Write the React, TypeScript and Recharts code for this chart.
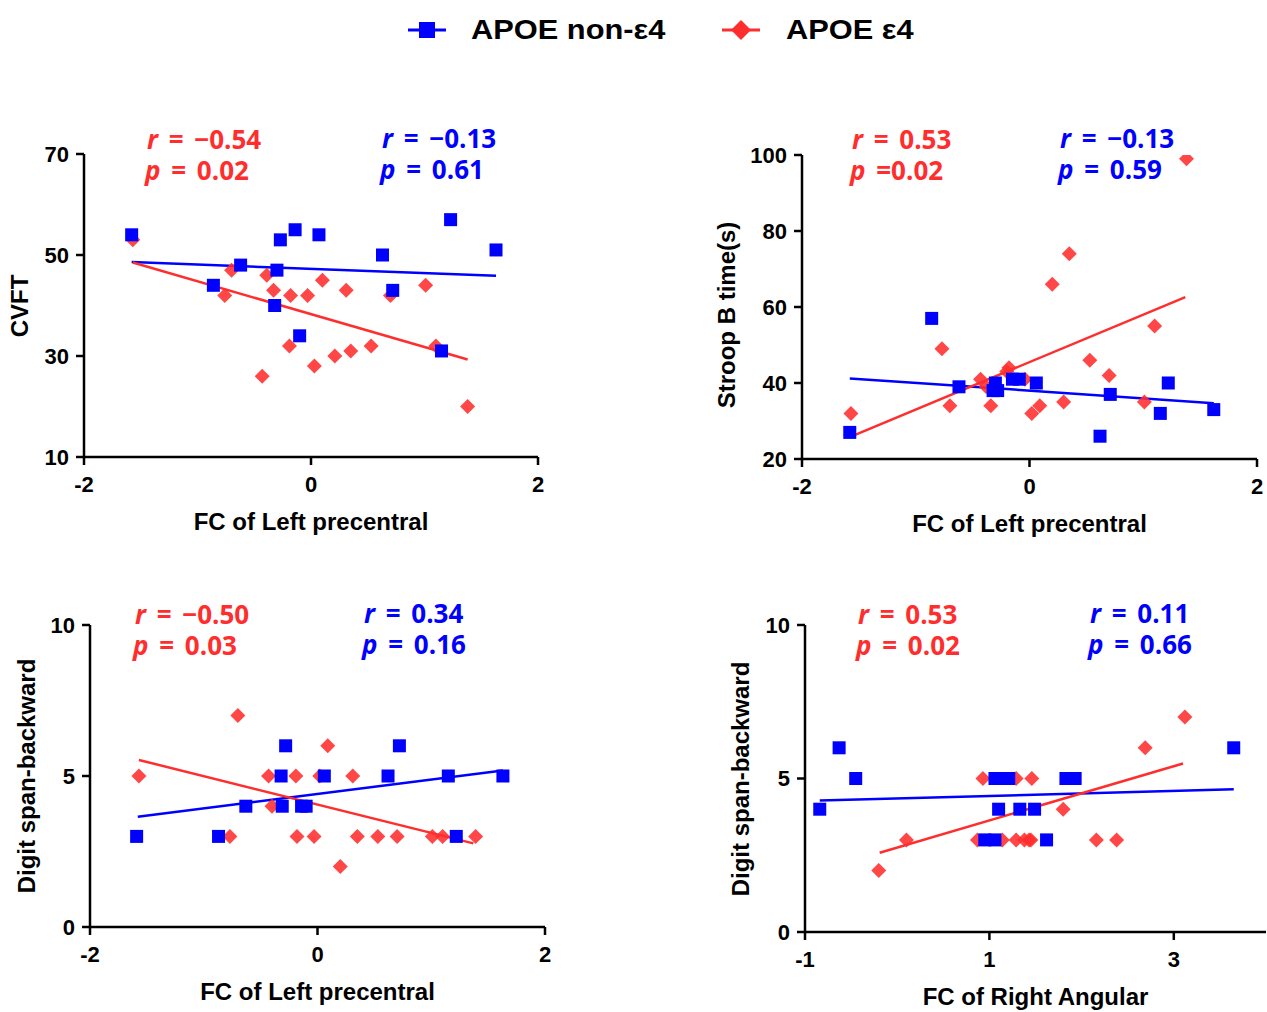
import React from "react";
import {
  ScatterChart,
  Scatter,
  XAxis,
  YAxis,
  ReferenceLine,
} from "recharts";

const BLUE = "#0000ff";
const RED = "#ff2e2e";
const SANS = "'Liberation Sans', Arial, sans-serif";
const STAT_FONT = "'Open Sans', 'Noto Sans', sans-serif";

// ---- panel 1: CVFT vs FC of Left precentral
const p1NonE4X = [-1.58, -0.86, -0.62, -0.27, -0.14, -0.3, -0.32, -0.1, 0.07, 0.63, 0.72, 1.23, 1.15, 1.63];
const p1NonE4Y = [54, 44, 48, 53, 55, 47, 40, 34, 54, 50, 43, 57, 31, 51];
const p1E4X = [-1.57, -0.76, -0.7, -0.39, -0.33, -0.18, -0.03, 0.1, 0.31, 0.7, 1.01, -0.19, -0.43, 0.03, 0.21, 0.35, 0.53, 1.1, 1.38];
const p1E4Y = [53, 42, 47, 46, 43, 42, 42, 45, 43, 42, 44, 32, 26, 28, 30, 31, 32, 32, 20];
const p1NonE4Fit = [[-1.58, 48.6], [1.63, 45.9]];
const p1E4Fit = [[-1.57, 48.5], [1.38, 29.3]];

// ---- panel 2: Stroop B time vs FC of Left precentral
const p2NonE4X = [-1.58, -0.86, -0.62, -0.3, -0.32, -0.28, -0.15, -0.09, 0.06, 0.62, 0.71, 1.15, 1.22, 1.62];
const p2NonE4Y = [27, 57, 39, 40, 38, 38, 41, 41, 40, 26, 37, 32, 40, 33];
const p2E4X = [-1.57, -0.77, -0.7, -0.43, -0.38, -0.34, -0.18, -0.2, -0.04, 0.02, 0.09, 0.2, 0.35, 0.3, 0.53, 0.7, 1.01, 1.1, 1.38];
const p2E4Y = [32, 49, 34, 41, 39, 34, 44, 43, 41, 32, 34, 66, 74, 35, 46, 42, 35, 55, 99];
const p2NonE4Fit = [[-1.58, 41.2], [1.62, 34.7]];
const p2E4Fit = [[-1.57, 25.9], [1.37, 62.6]];

// ---- panel 3: Digit span-backward vs FC of Left precentral
const p3NonE4X = [-1.59, -0.87, -0.63, -0.32, -0.28, -0.31, -0.14, -0.1, 0.06, 0.62, 0.72, 1.15, 1.22, 1.63];
const p3NonE4Y = [3, 3, 4, 5, 6, 4, 4, 4, 5, 5, 6, 5, 3, 5];
const p3E4X = [-1.57, -0.77, -0.7, -0.43, -0.4, -0.19, -0.18, -0.03, 0.02, 0.09, 0.2, 0.31, 0.35, 0.53, 0.7, 1.01, 1.1, 1.39];
const p3E4Y = [5, 3, 7, 5, 4, 5, 3, 3, 5, 6, 2, 5, 3, 3, 3, 3, 3, 3];
const p3NonE4Fit = [[-1.58, 3.65], [1.63, 5.18]];
const p3E4Fit = [[-1.57, 5.53], [1.37, 2.77]];

// ---- panel 4: Digit span-backward vs FC of Right Angular
const p4NonE4X = [-0.84, -0.63, -0.45, 0.95, 1.06, 1.06, 1.13, 1.21, 1.1, 1.33, 1.49, 1.62, 1.83, 1.93, 3.65];
const p4NonE4Y = [4, 6, 5, 3, 3, 5, 5, 5, 4, 4, 4, 3, 5, 5, 6];
const p4E4X = [-0.2, 0.1, 0.87, 0.93, 1.14, 1.29, 1.29, 1.38, 1.43, 1.46, 1.45, 1.8, 2.16, 2.38, 2.69, 3.12];
const p4E4Y = [2, 3, 3, 5, 3, 5, 3, 3, 3, 5, 3, 4, 3, 3, 6, 7];
const p4NonE4Fit = [[-0.84, 4.28], [3.65, 4.65]];
const p4E4Fit = [[-0.19, 2.58], [3.1, 5.49]];

// stats text after the italic letter: [r part, p part]
const p1Stats = { e4: [" = −0.54", " = 0.02"], nonE4: [" = −0.13", " = 0.61"] };
const p2Stats = { e4: [" = 0.53", " =0.02"], nonE4: [" = −0.13", " = 0.59"] };
const p3Stats = { e4: [" = −0.50", " = 0.03"], nonE4: [" = 0.34", " = 0.16"] };
const p4Stats = { e4: [" = 0.53", " = 0.02"], nonE4: [" = 0.11", " = 0.66"] };

const toPts = (xs: number[], ys: number[]) => xs.map((x, i) => ({ x, y: ys[i] }));

const SquareDot = (props: any) => {
  const { cx, cy } = props;
  if (cx == null || cy == null) return null;
  return <rect x={cx - 6.5} y={cy - 6.5} width={13} height={13} fill={BLUE} />;
};

const DiamondDot = (props: any) => {
  const { cx, cy } = props;
  if (cx == null || cy == null) return null;
  const r = 7.5;
  return (
    <polygon
      points={`${cx},${cy - r} ${cx + r},${cy} ${cx},${cy + r} ${cx - r},${cy}`}
      fill={RED}
      fillOpacity={0.88}
    />
  );
};

interface PanelProps {
  left: number;
  top: number;
  plotW: number;
  plotH: number;
  xDomain: [number, number];
  xTicks: number[];
  yDomain: [number, number];
  yTicks: number[];
  xLabel: string;
  yLabel: string;
  yTitleOffset: number;
  yTitleDy?: number;
  nonE4: { x: number; y: number }[];
  e4: { x: number; y: number }[];
  nonE4Fit: number[][];
  e4Fit: number[][];
  stats: { e4: string[]; nonE4: string[] };
  redX: number;
  blueX: number;
  statY: number;
}

function StatBlock({ x, y, color, r, p }: { x: number; y: number; color: string; r: string; p: string }) {
  const base: React.CSSProperties = {
    position: "absolute",
    left: x,
    color,
    fontFamily: STAT_FONT,
    fontWeight: 700,
    fontSize: 26,
    lineHeight: "26px",
    wordSpacing: 4,
    whiteSpace: "pre",
    transform: "translateY(-50%)",
  };
  return (
    <>
      <div style={{ ...base, top: y }}>
        <i>r</i>{r}
      </div>
      <div style={{ ...base, top: y + 31, left: x - 2 }}>
        <i>p</i>{p}
      </div>
    </>
  );
}

function Panel(props: PanelProps) {
  const { left, top, plotW, plotH } = props;
  const ML = 80;
  const MT = 20;
  const axisStyle = { stroke: "#000", strokeWidth: 2.5 };
  const tickStyle = { fill: "#000", fontSize: 22, fontWeight: 700, fontFamily: SANS };
  return (
    <>
      <div style={{ position: "absolute", left: left - ML, top: top - MT }}>
        <ScatterChart
          width={plotW + ML + 20}
          height={plotH + MT + 80}
          margin={{ top: MT, right: 20, bottom: 0, left: 0 }}
        >
          <XAxis
            type="number"
            dataKey="x"
            domain={props.xDomain}
            ticks={props.xTicks}
            allowDataOverflow
            height={80}
            axisLine={axisStyle}
            tickLine={axisStyle}
            tickSize={8}
            tickMargin={11}
            tick={tickStyle}
          />
          <YAxis
            type="number"
            dataKey="y"
            domain={props.yDomain}
            ticks={props.yTicks}
            allowDataOverflow
            width={ML}
            axisLine={axisStyle}
            tickLine={axisStyle}
            tickSize={8}
            tickMargin={7}
            tick={tickStyle}
          />
          <Scatter data={props.e4} shape={DiamondDot} isAnimationActive={false} />
          <Scatter data={props.nonE4} shape={SquareDot} isAnimationActive={false} />
          <ReferenceLine
            segment={props.nonE4Fit.map(([x, y]) => ({ x, y }))}
            stroke={BLUE}
            strokeWidth={2.5}
          />
          <ReferenceLine
            segment={props.e4Fit.map(([x, y]) => ({ x, y }))}
            stroke={RED}
            strokeWidth={2.5}
          />
        </ScatterChart>
      </div>
      <div
        style={{
          position: "absolute",
          left: left + plotW / 2,
          top: top + plotH + 65,
          transform: "translate(-50%, -50%)",
          fontFamily: SANS,
          fontWeight: 700,
          fontSize: 24,
          whiteSpace: "nowrap",
        }}
      >
        {props.xLabel}
      </div>
      <div
        style={{
          position: "absolute",
          left: left - props.yTitleOffset,
          top: top + plotH / 2 + (props.yTitleDy ?? 0),
          transform: "translate(-50%, -50%) rotate(-90deg)",
          fontFamily: SANS,
          fontWeight: 700,
          fontSize: 24,
          whiteSpace: "nowrap",
        }}
      >
        {props.yLabel}
      </div>
      <StatBlock x={props.redX} y={props.statY} color={RED} r={props.stats.e4[0]} p={props.stats.e4[1]} />
      <StatBlock x={props.blueX} y={props.statY - 1} color={BLUE} r={props.stats.nonE4[0]} p={props.stats.nonE4[1]} />
    </>
  );
}

function Legend() {
  const text: React.CSSProperties = {
    position: "absolute",
    top: 30,
    transform: "translateY(-50%) scaleX(1.1)",
    transformOrigin: "left center",
    fontFamily: SANS,
    fontWeight: 700,
    fontSize: 28,
    whiteSpace: "nowrap",
  };
  return (
    <>
      <svg style={{ position: "absolute", left: 0, top: 0 }} width={1267} height={60}>
        <line x1={408} x2={446} y1={30} y2={30} stroke={BLUE} strokeWidth={3} />
        <rect x={419} y={22} width={16} height={16} fill={BLUE} />
        <line x1={722} x2={760} y1={30} y2={30} stroke={RED} strokeWidth={3} />
        <polygon points="741,20 751,30 741,40 731,30" fill={RED} />
      </svg>
      <div style={{ ...text, left: 471 }}>APOE non-ε4</div>
      <div style={{ ...text, left: 786 }}>APOE ε4</div>
    </>
  );
}

export default function App() {
  return (
    <div
      style={{
        position: "absolute",
        left: 0,
        top: 0,
        width: 1267,
        height: 1012,
        overflow: "hidden",
        background: "#fff",
      }}
    >
      <Legend />
      <Panel
        left={84}
        top={154}
        plotW={454}
        plotH={303}
        xDomain={[-2, 2]}
        xTicks={[-2, 0, 2]}
        yDomain={[10, 70]}
        yTicks={[10, 30, 50, 70]}
        xLabel="FC of Left precentral"
        yLabel="CVFT"
        yTitleOffset={64}
        nonE4={toPts(p1NonE4X, p1NonE4Y)}
        e4={toPts(p1E4X, p1E4Y)}
        nonE4Fit={p1NonE4Fit}
        e4Fit={p1E4Fit}
        stats={p1Stats}
        redX={147}
        blueX={382}
        statY={139}
      />
      <Panel
        left={802}
        top={155}
        plotW={455}
        plotH={304}
        xDomain={[-2, 2]}
        xTicks={[-2, 0, 2]}
        yDomain={[20, 100]}
        yTicks={[20, 40, 60, 80, 100]}
        xLabel="FC of Left precentral"
        yLabel="Stroop B time(s)"
        yTitleOffset={75}
        yTitleDy={8}
        nonE4={toPts(p2NonE4X, p2NonE4Y)}
        e4={toPts(p2E4X, p2E4Y)}
        nonE4Fit={p2NonE4Fit}
        e4Fit={p2E4Fit}
        stats={p2Stats}
        redX={852}
        blueX={1060}
        statY={139}
      />
      <Panel
        left={90}
        top={625}
        plotW={455}
        plotH={302}
        xDomain={[-2, 2]}
        xTicks={[-2, 0, 2]}
        yDomain={[0, 10]}
        yTicks={[0, 5, 10]}
        xLabel="FC of Left precentral"
        yLabel="Digit span-backward"
        yTitleOffset={63}
        nonE4={toPts(p3NonE4X, p3NonE4Y)}
        e4={toPts(p3E4X, p3E4Y)}
        nonE4Fit={p3NonE4Fit}
        e4Fit={p3E4Fit}
        stats={p3Stats}
        redX={135}
        blueX={364}
        statY={614}
      />
      <Panel
        left={805}
        top={625}
        plotW={461}
        plotH={307}
        xDomain={[-1, 4]}
        xTicks={[-1, 1, 3]}
        yDomain={[0, 10]}
        yTicks={[0, 5, 10]}
        xLabel="FC of Right Angular"
        yLabel="Digit span-backward"
        yTitleOffset={64}
        nonE4={toPts(p4NonE4X, p4NonE4Y)}
        e4={toPts(p4E4X, p4E4Y)}
        nonE4Fit={p4NonE4Fit}
        e4Fit={p4E4Fit}
        stats={p4Stats}
        redX={858}
        blueX={1090}
        statY={614}
      />
    </div>
  );
}
